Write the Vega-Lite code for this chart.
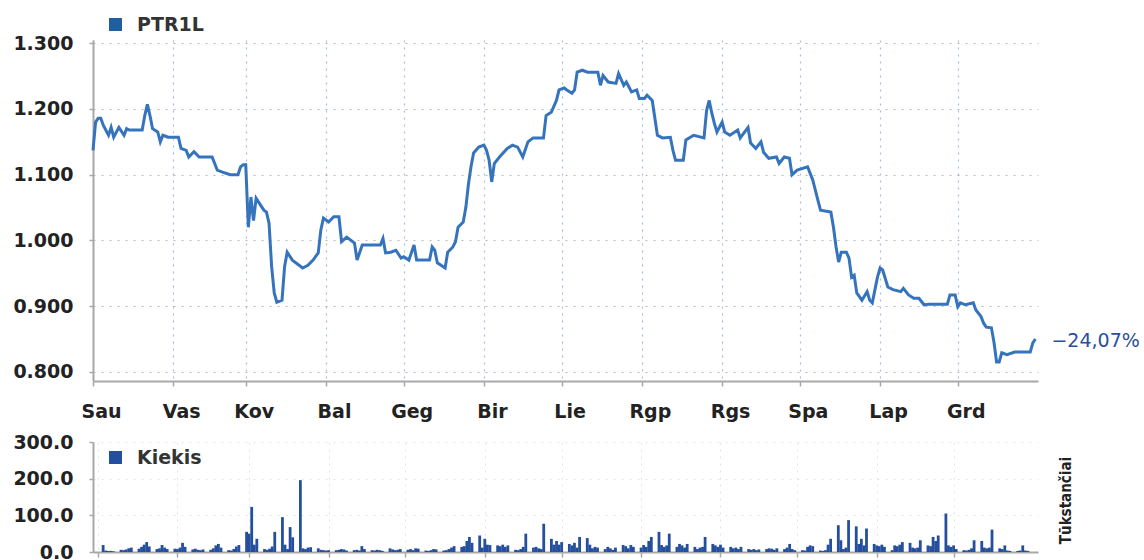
{
"$schema": "https://vega.github.io/schema/vega-lite/v6.json",
"background": "white",
"padding": {"left": 12, "top": 15, "right": 2, "bottom": 0},
"spacing": 61,
"bounds": "flush",
"resolve": {"scale": {"color": "independent"}, "legend": {"color": "independent"}},
"config": {
  "view": {"stroke": null},
  "font": "DejaVu Sans",
  "axis": {"labelFont": "DejaVu Sans", "labelFontSize": 19, "labelFontWeight": "bold", "labelColor": "#222222", "domainColor": "#a8a8a8", "domainWidth": 2, "tickColor": "#a8a8a8", "tickWidth": 1.5},
  "legend": {"orient": "none", "symbolType": "square", "symbolSize": 169, "labelFont": "DejaVu Sans", "labelFontSize": 19, "labelFontWeight": "bold", "labelColor": "#333333", "labelOffset": 12, "padding": 0}
},
"datasets": {
"price": [
{"d":"2011-01-01","p":1.137},{"d":"2011-01-02","p":1.18},{"d":"2011-01-03","p":1.186},{"d":"2011-01-04","p":1.186},{"d":"2011-01-05","p":1.175},{"d":"2011-01-07","p":1.16},{"d":"2011-01-08","p":1.172},{"d":"2011-01-09","p":1.157},{"d":"2011-01-11","p":1.172},{"d":"2011-01-13","p":1.16},{"d":"2011-01-14","p":1.17},{"d":"2011-01-15","p":1.168},{"d":"2011-01-20","p":1.168},{"d":"2011-01-21","p":1.19},{"d":"2011-01-22","p":1.207},{"d":"2011-01-23","p":1.19},{"d":"2011-01-24","p":1.17},{"d":"2011-01-26","p":1.165},{"d":"2011-01-27","p":1.15},{"d":"2011-01-28","p":1.16},{"d":"2011-01-30","p":1.157},
{"d":"2011-02-03","p":1.157},{"d":"2011-02-04","p":1.14},{"d":"2011-02-06","p":1.137},{"d":"2011-02-07","p":1.127},{"d":"2011-02-09","p":1.135},{"d":"2011-02-11","p":1.127},{"d":"2011-02-16","p":1.127},{"d":"2011-02-18","p":1.107},{"d":"2011-02-20","p":1.104},{"d":"2011-02-23","p":1.1},{"d":"2011-02-26","p":1.1},{"d":"2011-02-27","p":1.112},{"d":"2011-02-28","p":1.115},
{"d":"2011-03-01","p":1.115},{"d":"2011-03-02","p":1.02},{"d":"2011-03-03","p":1.066},{"d":"2011-03-04","p":1.03},{"d":"2011-03-05","p":1.064},{"d":"2011-03-08","p":1.046},{"d":"2011-03-09","p":1.043},{"d":"2011-03-10","p":1.026},{"d":"2011-03-11","p":0.96},{"d":"2011-03-12","p":0.92},{"d":"2011-03-13","p":0.906},{"d":"2011-03-15","p":0.909},{"d":"2011-03-16","p":0.96},{"d":"2011-03-17","p":0.982},{"d":"2011-03-19","p":0.97},{"d":"2011-03-23","p":0.958},{"d":"2011-03-25","p":0.962},{"d":"2011-03-27","p":0.97},{"d":"2011-03-29","p":0.981},{"d":"2011-03-30","p":1.016},{"d":"2011-03-31","p":1.034},
{"d":"2011-04-02","p":1.028},{"d":"2011-04-04","p":1.036},{"d":"2011-04-06","p":1.036},{"d":"2011-04-07","p":0.998},{"d":"2011-04-09","p":1.005},{"d":"2011-04-12","p":0.996},{"d":"2011-04-13","p":0.97},{"d":"2011-04-15","p":0.993},{"d":"2011-04-18","p":0.993},{"d":"2011-04-22","p":0.993},{"d":"2011-04-23","p":1.003},{"d":"2011-04-24","p":0.981},{"d":"2011-04-26","p":0.982},{"d":"2011-04-28","p":0.985},{"d":"2011-04-30","p":0.973},
{"d":"2011-05-01","p":0.975},{"d":"2011-05-03","p":0.97},{"d":"2011-05-05","p":0.993},{"d":"2011-05-06","p":0.97},{"d":"2011-05-11","p":0.97},{"d":"2011-05-12","p":0.99},{"d":"2011-05-13","p":0.985},{"d":"2011-05-14","p":0.966},{"d":"2011-05-17","p":0.958},{"d":"2011-05-18","p":0.982},{"d":"2011-05-20","p":0.99},{"d":"2011-05-21","p":0.998},{"d":"2011-05-22","p":1.02},{"d":"2011-05-24","p":1.028},{"d":"2011-05-25","p":1.05},{"d":"2011-05-26","p":1.085},{"d":"2011-05-27","p":1.112},{"d":"2011-05-28","p":1.133},{"d":"2011-05-30","p":1.142},
{"d":"2011-06-01","p":1.145},{"d":"2011-06-02","p":1.137},{"d":"2011-06-03","p":1.122},{"d":"2011-06-04","p":1.089},{"d":"2011-06-05","p":1.117},{"d":"2011-06-07","p":1.127},{"d":"2011-06-10","p":1.14},{"d":"2011-06-12","p":1.145},{"d":"2011-06-14","p":1.142},{"d":"2011-06-16","p":1.127},{"d":"2011-06-18","p":1.15},{"d":"2011-06-20","p":1.156},{"d":"2011-06-24","p":1.156},{"d":"2011-06-25","p":1.19},{"d":"2011-06-27","p":1.195},{"d":"2011-06-29","p":1.213},{"d":"2011-06-30","p":1.229},
{"d":"2011-07-02","p":1.232},{"d":"2011-07-03","p":1.229},{"d":"2011-07-05","p":1.224},{"d":"2011-07-06","p":1.229},{"d":"2011-07-07","p":1.256},{"d":"2011-07-09","p":1.259},{"d":"2011-07-11","p":1.256},{"d":"2011-07-15","p":1.256},{"d":"2011-07-16","p":1.236},{"d":"2011-07-17","p":1.251},{"d":"2011-07-19","p":1.241},{"d":"2011-07-22","p":1.239},{"d":"2011-07-23","p":1.254},{"d":"2011-07-25","p":1.236},{"d":"2011-07-26","p":1.241},{"d":"2011-07-28","p":1.226},{"d":"2011-07-30","p":1.229},{"d":"2011-07-31","p":1.216},
{"d":"2011-08-02","p":1.216},{"d":"2011-08-03","p":1.221},{"d":"2011-08-05","p":1.213},{"d":"2011-08-07","p":1.16},{"d":"2011-08-09","p":1.156},{"d":"2011-08-12","p":1.157},{"d":"2011-08-13","p":1.137},{"d":"2011-08-14","p":1.122},{"d":"2011-08-17","p":1.122},{"d":"2011-08-18","p":1.153},{"d":"2011-08-21","p":1.16},{"d":"2011-08-25","p":1.156},{"d":"2011-08-26","p":1.198},{"d":"2011-08-27","p":1.213},{"d":"2011-08-28","p":1.194},{"d":"2011-08-29","p":1.178},{"d":"2011-08-30","p":1.165},
{"d":"2011-09-01","p":1.18},{"d":"2011-09-02","p":1.165},{"d":"2011-09-04","p":1.16},{"d":"2011-09-07","p":1.168},{"d":"2011-09-08","p":1.156},{"d":"2011-09-11","p":1.172},{"d":"2011-09-12","p":1.148},{"d":"2011-09-14","p":1.14},{"d":"2011-09-16","p":1.15},{"d":"2011-09-17","p":1.134},{"d":"2011-09-19","p":1.125},{"d":"2011-09-22","p":1.127},{"d":"2011-09-23","p":1.117},{"d":"2011-09-25","p":1.127},{"d":"2011-09-27","p":1.125},{"d":"2011-09-28","p":1.1},{"d":"2011-09-30","p":1.107},
{"d":"2011-10-04","p":1.112},{"d":"2011-10-05","p":1.102},{"d":"2011-10-06","p":1.092},{"d":"2011-10-08","p":1.061},{"d":"2011-10-09","p":1.046},{"d":"2011-10-13","p":1.043},{"d":"2011-10-14","p":1.02},{"d":"2011-10-15","p":0.99},{"d":"2011-10-16","p":0.967},{"d":"2011-10-17","p":0.982},{"d":"2011-10-19","p":0.982},{"d":"2011-10-20","p":0.973},{"d":"2011-10-21","p":0.944},{"d":"2011-10-22","p":0.947},{"d":"2011-10-23","p":0.92},{"d":"2011-10-25","p":0.909},{"d":"2011-10-27","p":0.922},{"d":"2011-10-28","p":0.909},{"d":"2011-10-29","p":0.905},{"d":"2011-10-31","p":0.944},
{"d":"2011-11-01","p":0.958},{"d":"2011-11-02","p":0.955},{"d":"2011-11-04","p":0.929},{"d":"2011-11-06","p":0.925},{"d":"2011-11-09","p":0.922},{"d":"2011-11-10","p":0.927},{"d":"2011-11-12","p":0.917},{"d":"2011-11-14","p":0.912},{"d":"2011-11-16","p":0.912},{"d":"2011-11-18","p":0.902},{"d":"2011-11-20","p":0.903},{"d":"2011-11-27","p":0.903},{"d":"2011-11-28","p":0.917},{"d":"2011-11-30","p":0.917},
{"d":"2011-12-01","p":0.899},{"d":"2011-12-02","p":0.905},{"d":"2011-12-04","p":0.902},{"d":"2011-12-07","p":0.905},{"d":"2011-12-08","p":0.894},{"d":"2011-12-10","p":0.884},{"d":"2011-12-11","p":0.874},{"d":"2011-12-12","p":0.868},{"d":"2011-12-14","p":0.867},{"d":"2011-12-15","p":0.845},{"d":"2011-12-16","p":0.815},{"d":"2011-12-17","p":0.815},{"d":"2011-12-18","p":0.829},{"d":"2011-12-20","p":0.826},{"d":"2011-12-23","p":0.83},{"d":"2011-12-29","p":0.83},{"d":"2011-12-30","p":0.844},{"d":"2011-12-31","p":0.85}
],
"vol": [
{"d":"2011-01-03","v":19},{"d":"2011-01-04","v":4},{"d":"2011-01-05","v":3},{"d":"2011-01-06","v":3},{"d":"2011-01-07","v":2},{"d":"2011-01-10","v":6},{"d":"2011-01-11","v":5},{"d":"2011-01-12","v":7},{"d":"2011-01-13","v":10},{"d":"2011-01-14","v":12},{"d":"2011-01-17","v":9},{"d":"2011-01-18","v":14},{"d":"2011-01-19","v":20},{"d":"2011-01-20","v":27},{"d":"2011-01-21","v":15},{"d":"2011-01-24","v":8},{"d":"2011-01-25","v":10},{"d":"2011-01-26","v":19},{"d":"2011-01-27","v":12},{"d":"2011-01-28","v":8},{"d":"2011-01-31","v":9},
{"d":"2011-02-01","v":8},{"d":"2011-02-02","v":12},{"d":"2011-02-03","v":25},{"d":"2011-02-04","v":14},{"d":"2011-02-07","v":7},{"d":"2011-02-08","v":9},{"d":"2011-02-09","v":6},{"d":"2011-02-10","v":5},{"d":"2011-02-11","v":7},{"d":"2011-02-14","v":6},{"d":"2011-02-15","v":10},{"d":"2011-02-16","v":18},{"d":"2011-02-17","v":22},{"d":"2011-02-18","v":12},{"d":"2011-02-21","v":5},{"d":"2011-02-22","v":4},{"d":"2011-02-23","v":8},{"d":"2011-02-24","v":15},{"d":"2011-02-25","v":19},{"d":"2011-02-28","v":55},
{"d":"2011-03-01","v":50},{"d":"2011-03-02","v":123},{"d":"2011-03-03","v":20},{"d":"2011-03-04","v":36},{"d":"2011-03-07","v":8},{"d":"2011-03-08","v":6},{"d":"2011-03-09","v":9},{"d":"2011-03-10","v":15},{"d":"2011-03-11","v":55},{"d":"2011-03-14","v":95},{"d":"2011-03-15","v":20},{"d":"2011-03-16","v":8},{"d":"2011-03-17","v":68},{"d":"2011-03-18","v":40},{"d":"2011-03-21","v":196},{"d":"2011-03-22","v":10},{"d":"2011-03-23","v":8},{"d":"2011-03-24","v":12},{"d":"2011-03-25","v":13},{"d":"2011-03-28","v":10},{"d":"2011-03-29","v":6},{"d":"2011-03-30","v":5},{"d":"2011-03-31","v":4},
{"d":"2011-04-01","v":5},{"d":"2011-04-04","v":5},{"d":"2011-04-05","v":6},{"d":"2011-04-06","v":8},{"d":"2011-04-07","v":7},{"d":"2011-04-08","v":4},{"d":"2011-04-11","v":5},{"d":"2011-04-12","v":6},{"d":"2011-04-13","v":4},{"d":"2011-04-14","v":16},{"d":"2011-04-15","v":8},{"d":"2011-04-18","v":5},{"d":"2011-04-19","v":4},{"d":"2011-04-20","v":6},{"d":"2011-04-21","v":5},{"d":"2011-04-22","v":3},{"d":"2011-04-25","v":10},{"d":"2011-04-26","v":7},{"d":"2011-04-27","v":5},{"d":"2011-04-28","v":6},{"d":"2011-04-29","v":8},
{"d":"2011-05-02","v":6},{"d":"2011-05-03","v":8},{"d":"2011-05-04","v":5},{"d":"2011-05-05","v":10},{"d":"2011-05-06","v":9},{"d":"2011-05-09","v":4},{"d":"2011-05-10","v":3},{"d":"2011-05-11","v":5},{"d":"2011-05-12","v":8},{"d":"2011-05-13","v":7},{"d":"2011-05-16","v":4},{"d":"2011-05-17","v":5},{"d":"2011-05-18","v":8},{"d":"2011-05-19","v":12},{"d":"2011-05-20","v":16},{"d":"2011-05-23","v":14},{"d":"2011-05-24","v":16},{"d":"2011-05-25","v":30},{"d":"2011-05-26","v":41},{"d":"2011-05-27","v":25},{"d":"2011-05-30","v":45},{"d":"2011-05-31","v":12},
{"d":"2011-06-01","v":36},{"d":"2011-06-02","v":20},{"d":"2011-06-03","v":19},{"d":"2011-06-06","v":18},{"d":"2011-06-07","v":16},{"d":"2011-06-08","v":20},{"d":"2011-06-09","v":14},{"d":"2011-06-10","v":18},{"d":"2011-06-13","v":6},{"d":"2011-06-14","v":5},{"d":"2011-06-15","v":8},{"d":"2011-06-16","v":14},{"d":"2011-06-17","v":50},{"d":"2011-06-20","v":12},{"d":"2011-06-21","v":14},{"d":"2011-06-22","v":10},{"d":"2011-06-23","v":8},{"d":"2011-06-24","v":77},{"d":"2011-06-27","v":36},{"d":"2011-06-28","v":20},{"d":"2011-06-29","v":30},{"d":"2011-06-30","v":20},
{"d":"2011-07-01","v":27},{"d":"2011-07-04","v":22},{"d":"2011-07-05","v":18},{"d":"2011-07-06","v":25},{"d":"2011-07-07","v":12},{"d":"2011-07-08","v":41},{"d":"2011-07-11","v":38},{"d":"2011-07-12","v":20},{"d":"2011-07-13","v":10},{"d":"2011-07-14","v":14},{"d":"2011-07-15","v":12},{"d":"2011-07-18","v":8},{"d":"2011-07-19","v":14},{"d":"2011-07-20","v":10},{"d":"2011-07-21","v":6},{"d":"2011-07-22","v":12},{"d":"2011-07-25","v":19},{"d":"2011-07-26","v":16},{"d":"2011-07-27","v":10},{"d":"2011-07-28","v":19},{"d":"2011-07-29","v":14},
{"d":"2011-08-01","v":12},{"d":"2011-08-02","v":19},{"d":"2011-08-03","v":14},{"d":"2011-08-04","v":30},{"d":"2011-08-05","v":41},{"d":"2011-08-08","v":55},{"d":"2011-08-09","v":19},{"d":"2011-08-10","v":14},{"d":"2011-08-11","v":18},{"d":"2011-08-12","v":50},{"d":"2011-08-15","v":14},{"d":"2011-08-16","v":22},{"d":"2011-08-17","v":18},{"d":"2011-08-18","v":12},{"d":"2011-08-19","v":22},{"d":"2011-08-22","v":14},{"d":"2011-08-23","v":8},{"d":"2011-08-24","v":12},{"d":"2011-08-25","v":14},{"d":"2011-08-26","v":41},{"d":"2011-08-29","v":22},{"d":"2011-08-30","v":18},{"d":"2011-08-31","v":14},
{"d":"2011-09-01","v":20},{"d":"2011-09-02","v":12},{"d":"2011-09-05","v":14},{"d":"2011-09-06","v":10},{"d":"2011-09-07","v":12},{"d":"2011-09-08","v":8},{"d":"2011-09-09","v":14},{"d":"2011-09-12","v":8},{"d":"2011-09-13","v":6},{"d":"2011-09-14","v":8},{"d":"2011-09-15","v":5},{"d":"2011-09-16","v":7},{"d":"2011-09-19","v":8},{"d":"2011-09-20","v":10},{"d":"2011-09-21","v":9},{"d":"2011-09-22","v":6},{"d":"2011-09-23","v":10},{"d":"2011-09-26","v":8},{"d":"2011-09-27","v":12},{"d":"2011-09-28","v":22},{"d":"2011-09-29","v":8},{"d":"2011-09-30","v":5},
{"d":"2011-10-03","v":5},{"d":"2011-10-04","v":4},{"d":"2011-10-05","v":14},{"d":"2011-10-06","v":18},{"d":"2011-10-07","v":16},{"d":"2011-10-10","v":4},{"d":"2011-10-11","v":3},{"d":"2011-10-12","v":5},{"d":"2011-10-13","v":20},{"d":"2011-10-14","v":36},{"d":"2011-10-17","v":73},{"d":"2011-10-18","v":32},{"d":"2011-10-19","v":8},{"d":"2011-10-20","v":12},{"d":"2011-10-21","v":87},{"d":"2011-10-24","v":70},{"d":"2011-10-25","v":22},{"d":"2011-10-26","v":36},{"d":"2011-10-27","v":18},{"d":"2011-10-28","v":64},{"d":"2011-10-31","v":22},
{"d":"2011-11-01","v":18},{"d":"2011-11-02","v":16},{"d":"2011-11-03","v":20},{"d":"2011-11-04","v":14},{"d":"2011-11-07","v":5},{"d":"2011-11-08","v":18},{"d":"2011-11-09","v":16},{"d":"2011-11-10","v":20},{"d":"2011-11-11","v":27},{"d":"2011-11-14","v":25},{"d":"2011-11-15","v":12},{"d":"2011-11-16","v":10},{"d":"2011-11-17","v":12},{"d":"2011-11-18","v":32},{"d":"2011-11-21","v":18},{"d":"2011-11-22","v":16},{"d":"2011-11-23","v":41},{"d":"2011-11-24","v":30},{"d":"2011-11-25","v":45},{"d":"2011-11-28","v":105},{"d":"2011-11-29","v":18},{"d":"2011-11-30","v":14},
{"d":"2011-12-01","v":18},{"d":"2011-12-02","v":8},{"d":"2011-12-05","v":5},{"d":"2011-12-06","v":4},{"d":"2011-12-07","v":6},{"d":"2011-12-08","v":10},{"d":"2011-12-09","v":32},{"d":"2011-12-12","v":30},{"d":"2011-12-13","v":12},{"d":"2011-12-14","v":10},{"d":"2011-12-15","v":12},{"d":"2011-12-16","v":61},{"d":"2011-12-19","v":10},{"d":"2011-12-20","v":8},{"d":"2011-12-21","v":18},{"d":"2011-12-22","v":4},{"d":"2011-12-23","v":3},{"d":"2011-12-26","v":3},{"d":"2011-12-27","v":4},{"d":"2011-12-28","v":18},{"d":"2011-12-29","v":4},{"d":"2011-12-30","v":3}
]
},
"vconcat": [
{
  "width": 945,
  "height": 341,
  "layer": [
    {
      "data": {"name": "price"},
      "mark": {"type": "line", "strokeWidth": 3},
      "encoding": {
        "x": {"field": "d", "type": "temporal",
          "scale": {"type": "utc", "domain": [{"year": 2011, "month": 1, "date": 1, "utc": true}, {"year": 2012, "month": 1, "date": 1, "utc": true}]},
          "axis": {"title": null,
            "values": [{"year":2011,"month":1,"date":1,"utc":true},{"year":2011,"month":2,"date":1,"utc":true},{"year":2011,"month":3,"date":1,"utc":true},{"year":2011,"month":4,"date":1,"utc":true},{"year":2011,"month":5,"date":1,"utc":true},{"year":2011,"month":6,"date":1,"utc":true},{"year":2011,"month":7,"date":1,"utc":true},{"year":2011,"month":8,"date":1,"utc":true},{"year":2011,"month":9,"date":1,"utc":true},{"year":2011,"month":10,"date":1,"utc":true},{"year":2011,"month":11,"date":1,"utc":true},{"year":2011,"month":12,"date":1,"utc":true}],
            "labelExpr": "['Sau','Vas','Kov','Bal','Geg','Bir','Lie','Rgp','Rgs','Spa','Lap','Grd'][utcmonth(datum.value)]",
            "labelOffset": 8, "labelPadding": 16, "tickSize": 5, "labelFlush": false, "labelOverlap": false,
            "grid": true, "gridColor": "#6b93cf", "gridDash": [2, 5], "gridOpacity": 0.6, "gridWidth": 1.2}},
        "y": {"field": "p", "type": "quantitative",
          "scale": {"domain": [0.786, 1.305], "nice": false, "zero": false},
          "axis": {"title": null, "values": [0.8, 0.9, 1.0, 1.1, 1.2, 1.3], "format": ".3f", "labelPadding": 16, "tickSize": 4,
            "grid": true, "gridColor": "#9a9a9a", "gridDash": [2, 6], "gridOpacity": 0.7}},
        "color": {"datum": "PTR1L", "scale": {"range": ["#3574bd"]},
          "legend": {"title": null, "legendX": 13, "legendY": -25,
            "encode": {"symbols": {"update": {"fill": {"value": "#1f5f9f"}, "stroke": {"value": "#1f5f9f"}, "strokeWidth": {"value": 0}, "opacity": {"value": 1}}}}}}
      }
    },
    {
      "data": {"values": [{"d": "2011-12-31", "p": 0.85, "t": "−24,07%"}]},
      "mark": {"type": "text", "align": "left", "baseline": "middle", "dx": 16, "dy": 2, "font": "DejaVu Sans", "fontSize": 19, "color": "#2b4f9e"},
      "encoding": {
        "x": {"field": "d", "type": "temporal"},
        "y": {"field": "p", "type": "quantitative"},
        "text": {"field": "t"}
      }
    }
  ]
},
{
  "width": 945,
  "height": 110,
  "data": {"name": "vol"},
  "mark": {"type": "bar", "size": 2.8},
  "encoding": {
    "x": {"field": "d", "type": "temporal",
      "scale": {"type": "utc", "domain": [{"year": 2011, "month": 1, "date": 1, "utc": true}, {"year": 2012, "month": 1, "date": 1, "utc": true}]},
      "axis": {"title": null, "labels": false, "tickSize": 5,
        "values": [{"year":2011,"month":1,"date":1,"utc":true},{"year":2011,"month":2,"date":1,"utc":true},{"year":2011,"month":3,"date":1,"utc":true},{"year":2011,"month":4,"date":1,"utc":true},{"year":2011,"month":5,"date":1,"utc":true},{"year":2011,"month":6,"date":1,"utc":true},{"year":2011,"month":7,"date":1,"utc":true},{"year":2011,"month":8,"date":1,"utc":true},{"year":2011,"month":9,"date":1,"utc":true},{"year":2011,"month":10,"date":1,"utc":true},{"year":2011,"month":11,"date":1,"utc":true},{"year":2011,"month":12,"date":1,"utc":true}],
        "grid": true, "gridColor": "#c9cfd9", "gridDash": [2, 5], "gridOpacity": 0.6}},
    "y": {"field": "v", "type": "quantitative",
      "scale": {"domain": [0, 300], "nice": false},
      "axis": {"values": [0, 100, 200, 300], "format": ".1f", "labelPadding": 16, "tickSize": 4,
        "grid": true, "gridColor": "#d5d5d5", "gridDash": [2, 6], "gridOpacity": 0.6,
        "title": "Tūkstančiai", "titleAngle": 270, "titleX": 972, "titleY": 58, "titleAlign": "center", "titleBaseline": "middle",
        "titleFont": "DejaVu Sans Condensed", "titleFontWeight": "bold", "titleFontSize": 15, "titleColor": "#222222"}},
    "color": {"datum": "Kiekis", "scale": {"range": ["#244f9e"]},
      "legend": {"title": null, "legendX": 13, "legendY": 6,
        "encode": {"symbols": {"update": {"fill": {"value": "#1f4f9a"}, "stroke": {"value": "#1f4f9a"}, "strokeWidth": {"value": 0}, "opacity": {"value": 1}}}}}}
  }
}
]
}
